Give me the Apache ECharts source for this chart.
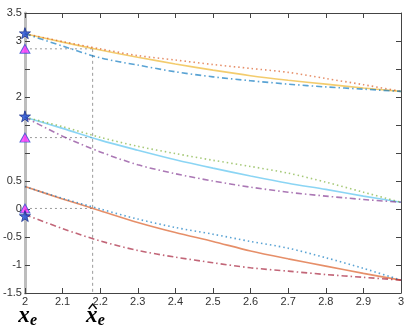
<!DOCTYPE html>
<html>
<head>
<meta charset="utf-8">
<script src="https://cdn.jsdelivr.net/npm/echarts@6/dist/echarts.min.js"></script>
<style>
html,body{margin:0;padding:0;background:#fff}
#main{width:415px;height:329px}
</style>
</head>
<body>
<div id="main"></div>
<script>
// x grid
var xVals = [2, 2.1, 2.2, 2.3, 2.4, 2.5, 2.6, 2.7, 2.8, 2.9, 3];
// top group
var topSolid   = [3.13, 2.98, 2.84, 2.71, 2.59, 2.48, 2.38, 2.30, 2.23, 2.16, 2.10];
var topDotted  = [3.13, 2.99, 2.86, 2.74, 2.66, 2.58, 2.51, 2.44, 2.33, 2.22, 2.10];
var topDashDot = [3.13, 2.91, 2.70, 2.57, 2.45, 2.36, 2.29, 2.23, 2.18, 2.14, 2.10];
// middle group
var midSolid   = [1.64, 1.44, 1.23, 1.05, 0.88, 0.73, 0.59, 0.46, 0.35, 0.23, 0.12];
var midDotted  = [1.64, 1.47, 1.28, 1.12, 0.99, 0.87, 0.76, 0.64, 0.48, 0.30, 0.12];
var midDashDot = [1.64, 1.30, 1.02, 0.79, 0.63, 0.50, 0.39, 0.30, 0.23, 0.17, 0.12];
// bottom group
var lowSolid   = [0.40, 0.18, -0.03, -0.24, -0.42, -0.58, -0.75, -0.89, -1.02, -1.15, -1.27];
var lowDotted  = [0.40, 0.19, 0.00, -0.18, -0.33, -0.45, -0.58, -0.70, -0.87, -1.06, -1.27];
var lowDashDot = [-0.10, -0.35, -0.57, -0.74, -0.86, -0.96, -1.05, -1.11, -1.17, -1.22, -1.27];
// markers at x = 2
var starY = [3.14, 1.655, -0.125];
var triY  = [2.86, 1.275, 0.01];
var xHat = 2.18;
// tick labels
var yTickLabels = [3.5, 3, 2, 0.5, 0, -0.5, -1, -1.5];

var chart = echarts.init(document.getElementById('main'));

var dotted = [1.5, 3];
var dashDot = [6, 3, 1.5, 3];

function curve(arr, color, type) {
  return {
    type: 'line',
    data: xVals.map(function (x, i) { return [x, arr[i]]; }),
    smooth: 0.3,
    symbol: 'none',
    lineStyle: { color: color, width: 1.6, type: type, opacity: 0.65 },
    z: 3
  };
}

function guide(pts, type) {
  return {
    type: 'line',
    data: pts,
    symbol: 'none',
    lineStyle: { color: '#9a9a9a', width: 1, type: type },
    z: 2
  };
}

var starPath = 'path://M50,0 L61,35 L98,35 L68,57 L79,91 L50,70 L21,91 L32,57 L2,35 L39,35 Z';

var series = [
  curve(topSolid, '#EDB120', 'solid'),
  curve(topDotted, '#D95319', dotted),
  curve(topDashDot, '#0072BD', dashDot),
  curve(midSolid, '#4DBEEE', 'solid'),
  curve(midDotted, '#77AC30', dotted),
  curve(midDashDot, '#7E2F8E', dashDot),
  curve(lowSolid, '#D95319', 'solid'),
  curve(lowDotted, '#0072BD', dotted),
  curve(lowDashDot, '#A2142F', dashDot),
  guide([[xHat, triY[0]], [xHat, -1.5]], [3, 3])
];
triY.forEach(function (t) {
  series.push(guide([[2, t], [xHat, t]], [2, 3]));
});
series.push({
  type: 'scatter',
  data: triY.map(function (t) { return [2, t]; }),
  symbol: 'triangle',
  symbolSize: [10, 9],
  itemStyle: { color: '#ff33ff', borderColor: '#3355cc', borderWidth: 1 },
  z: 5
});
series.push({
  type: 'scatter',
  data: starY.map(function (s) { return [2, s]; }),
  symbol: starPath,
  symbolSize: 11,
  itemStyle: { color: '#1f4fd8', borderColor: '#1a2f8a', borderWidth: 1 },
  z: 6
});

var tickLabel = { color: '#333', fontSize: 11, fontFamily: 'Liberation Sans, Arial, sans-serif' };

chart.setOption({
  animation: false,
  grid: { left: 24, right: 14, top: 13, bottom: 36 },
  xAxis: [{
    type: 'value', min: 2, max: 3, interval: 0.1,
    axisLine: { onZero: false, lineStyle: { color: '#444', width: 1 } },
    axisTick: { inside: true, length: 5, lineStyle: { color: '#444' } },
    axisLabel: Object.assign({ margin: 3, formatter: function (v) {
      return String(Math.round(v * 10) / 10);
    } }, tickLabel),
    splitLine: { show: false }
  }, {
    type: 'value', min: 2, max: 3, interval: 0.1, position: 'top',
    axisLine: { onZero: false, lineStyle: { color: '#444', width: 1 } },
    axisTick: { inside: true, length: 5, lineStyle: { color: '#444' } },
    axisLabel: { show: false },
    splitLine: { show: false }
  }],
  yAxis: [{
    type: 'value', min: -1.5, max: 3.5, interval: 0.5,
    axisLine: { show: true, onZero: false, lineStyle: { color: '#bdbdbd', width: 3 } },
    axisTick: { show: true, inside: true, length: 5, lineStyle: { color: '#444' } },
    axisLabel: Object.assign({ margin: 3, formatter: function (v) {
      var r = Math.round(v * 10) / 10;
      return yTickLabels.indexOf(r) >= 0 ? String(r) : '';
    } }, tickLabel),
    splitLine: { show: false }
  }, {
    type: 'value', min: -1.5, max: 3.5, interval: 0.5, position: 'right',
    axisLine: { show: true, onZero: false, lineStyle: { color: '#444', width: 1 } },
    axisTick: { show: true, inside: true, length: 5, lineStyle: { color: '#444' } },
    axisLabel: { show: false },
    splitLine: { show: false }
  }],
  series: series
});

// x_e and x-hat_e labels under the axis
var p0 = chart.convertToPixel({ xAxisIndex: 0, yAxisIndex: 0 }, [2, -1.5]);
var p1 = chart.convertToPixel({ xAxisIndex: 0, yAxisIndex: 0 }, [xHat, -1.5]);
var xFont = { fontFamily: 'Liberation Serif, DejaVu Serif, serif', fontStyle: 'italic', fontWeight: 'bold', fill: '#000' };
function xLabel(px, hat) {
  var els = [
    { type: 'text', x: px - 1, y: p0[1] + 23, style: Object.assign({ text: 'x', fontSize: 23, align: 'center', verticalAlign: 'middle' }, xFont) },
    { type: 'text', x: px + 5, y: p0[1] + 28, style: Object.assign({ text: 'e', fontSize: 16, align: 'left', verticalAlign: 'middle' }, xFont) }
  ];
  if (hat) {
    els.push({
      type: 'polyline',
      shape: { points: [[px - 4, p0[1] + 16], [px, p0[1] + 11], [px + 4, p0[1] + 16]] },
      style: { stroke: '#000', lineWidth: 1.3, fill: null }
    });
  }
  return els;
}
chart.setOption({ graphic: xLabel(p0[0], false).concat(xLabel(p1[0], true)) });
</script>
</body>
</html>
